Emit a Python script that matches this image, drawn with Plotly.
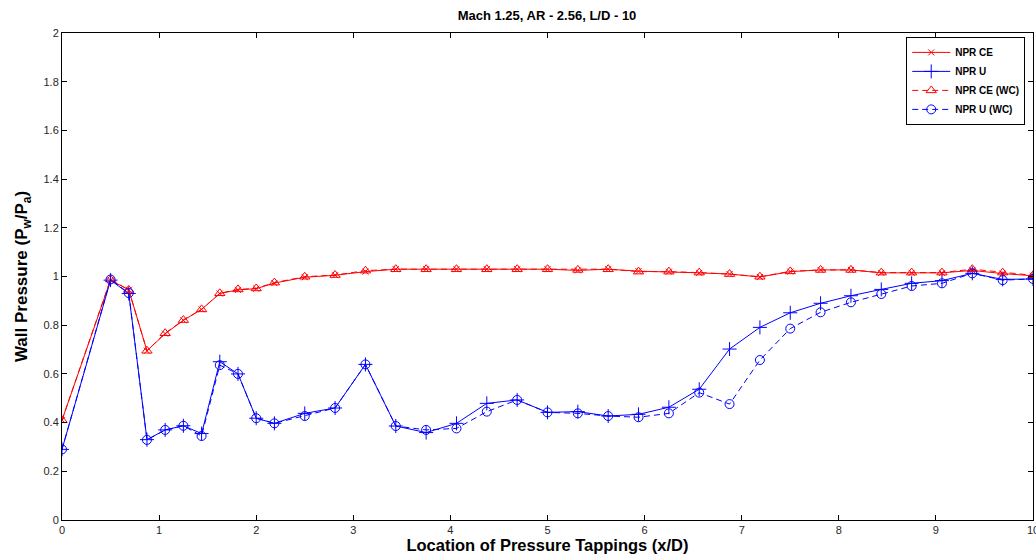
import plotly.graph_objects as go

x_pos = [0, 0.5, 0.6875, 0.875, 1.0625, 1.25, 1.4375, 1.625, 1.8125, 2.0, 2.1875,
         2.5, 2.8125, 3.125, 3.4375, 3.75, 4.0625, 4.375, 4.6875, 5.0, 5.3125, 5.625,
         5.9375, 6.25, 6.5625, 6.875, 7.1875, 7.5, 7.8125, 8.125, 8.4375, 8.75, 9.0625,
         9.375, 9.6875, 10.0]

npr_ce = [0.41, 0.985, 0.945, 0.695, 0.765, 0.82, 0.865, 0.93, 0.945, 0.95, 0.973,
          0.997, 1.005, 1.02, 1.03, 1.03, 1.03, 1.03, 1.03, 1.03, 1.025, 1.03,
          1.022, 1.02, 1.015, 1.01, 0.998, 1.02, 1.027, 1.027, 1.015, 1.015, 1.015,
          1.025, 1.012, 1.003]

npr_u = [0.29, 0.985, 0.93, 0.33, 0.37, 0.387, 0.355, 0.65, 0.60, 0.418, 0.397,
         0.438, 0.46, 0.639, 0.386, 0.359, 0.397, 0.479, 0.493, 0.442, 0.445, 0.427,
         0.434, 0.463, 0.537, 0.702, 0.791, 0.851, 0.89, 0.921, 0.947, 0.972, 0.983,
         1.013, 0.988, 0.99]

npr_ce_wc = [0.41, 0.988, 0.945, 0.695, 0.767, 0.821, 0.865, 0.931, 0.947, 0.951, 0.975,
             0.999, 1.006, 1.024, 1.03, 1.03, 1.03, 1.03, 1.03, 1.03, 1.027, 1.03,
             1.02, 1.02, 1.016, 1.01, 0.999, 1.021, 1.027, 1.027, 1.016, 1.016, 1.016,
             1.03, 1.016, 1.005]

npr_u_wc = [0.29, 0.988, 0.932, 0.329, 0.37, 0.387, 0.345, 0.636, 0.60, 0.418, 0.397,
            0.427, 0.46, 0.639, 0.386, 0.37, 0.376, 0.445, 0.493, 0.442, 0.438, 0.427,
            0.422, 0.438, 0.523, 0.476, 0.657, 0.786, 0.853, 0.894, 0.928, 0.961, 0.972,
            1.013, 0.985, 0.99]

x_ticks = list(range(0, 11))
y_ticks = [0, 0.2, 0.4, 0.6, 0.8, 1, 1.2, 1.4, 1.6, 1.8, 2]
y_tick_text = ["0", "0.2", "0.4", "0.6", "0.8", "1", "1.2", "1.4", "1.6", "1.8", "2"]

RED = "#ff0000"
BLUE = "#0000ff"

fig = go.Figure()
fig.add_trace(go.Scatter(
    x=x_pos, y=npr_ce, name="<b>NPR CE</b>", mode="lines+markers",
    line=dict(color=RED, width=1),
    marker=dict(symbol="x-thin", size=6, color=RED, line=dict(color=RED, width=1))))
fig.add_trace(go.Scatter(
    x=x_pos, y=npr_u, name="<b>NPR U</b>", mode="lines+markers",
    line=dict(color=BLUE, width=1),
    marker=dict(symbol="cross-thin", size=10, color=BLUE, line=dict(color=BLUE, width=1))))
fig.add_trace(go.Scatter(
    x=x_pos, y=npr_ce_wc, name="<b>NPR CE (WC)</b>", mode="lines+markers",
    line=dict(color=RED, width=1, dash="6px,4px"),
    marker=dict(symbol="triangle-up-open", size=9, color=RED, line=dict(color=RED, width=1))))
fig.add_trace(go.Scatter(
    x=x_pos, y=npr_u_wc, name="<b>NPR U (WC)</b>", mode="lines+markers",
    line=dict(color=BLUE, width=1, dash="6px,4px"),
    marker=dict(symbol="circle-open", size=9, color=BLUE, line=dict(color=BLUE, width=1))))

axis_font = dict(family="Liberation Sans, Arial, sans-serif", size=11, color="#262626")
label_family = "Liberation Sans, Arial, sans-serif"
fig.update_layout(
    width=1036, height=560,
    margin=dict(l=62, r=3, t=33, b=40, autoexpand=False),
    paper_bgcolor="white", plot_bgcolor="white",
    title=dict(text="<b>Mach 1.25, AR - 2.56, L/D - 10</b>", x=0.528, xanchor="center",
               y=0.972, yanchor="middle",
               font=dict(family=label_family, size=13, color="black")),
    font=dict(family=label_family, color="black"),
    legend=dict(x=0.992, y=0.992, xanchor="right", yanchor="top",
                bordercolor="black", borderwidth=1, bgcolor="white",
                font=dict(family=label_family, size=10, color="black"),
                tracegroupgap=0, itemwidth=38),
    showlegend=True,
)
fig.update_xaxes(
    range=[0, 10], tickmode="array", tickvals=x_ticks, ticklabeloverflow="allow",
    automargin=False,
    ticks="inside", ticklen=5, tickcolor="black", showline=True, linecolor="black",
    linewidth=1, mirror="ticks", showgrid=False, zeroline=False, tickfont=axis_font,
    title=dict(text="<b>Location of Pressure Tappings (x/D)</b>", standoff=3,
               font=dict(family=label_family, size=16.5, color="black")))
fig.update_yaxes(
    range=[0, 2], tickmode="array", tickvals=y_ticks, ticktext=y_tick_text,
    automargin=False,
    ticks="inside", ticklen=5, tickcolor="black", showline=True, linecolor="black",
    linewidth=1, mirror="ticks", showgrid=False, zeroline=False, tickfont=axis_font,
    title=dict(text="<b>Wall Pressure (P<sub>w</sub>/P<sub>a</sub>)</b>", standoff=11,
               font=dict(family=label_family, size=17, color="black")))

fig.write_html("out.html")
